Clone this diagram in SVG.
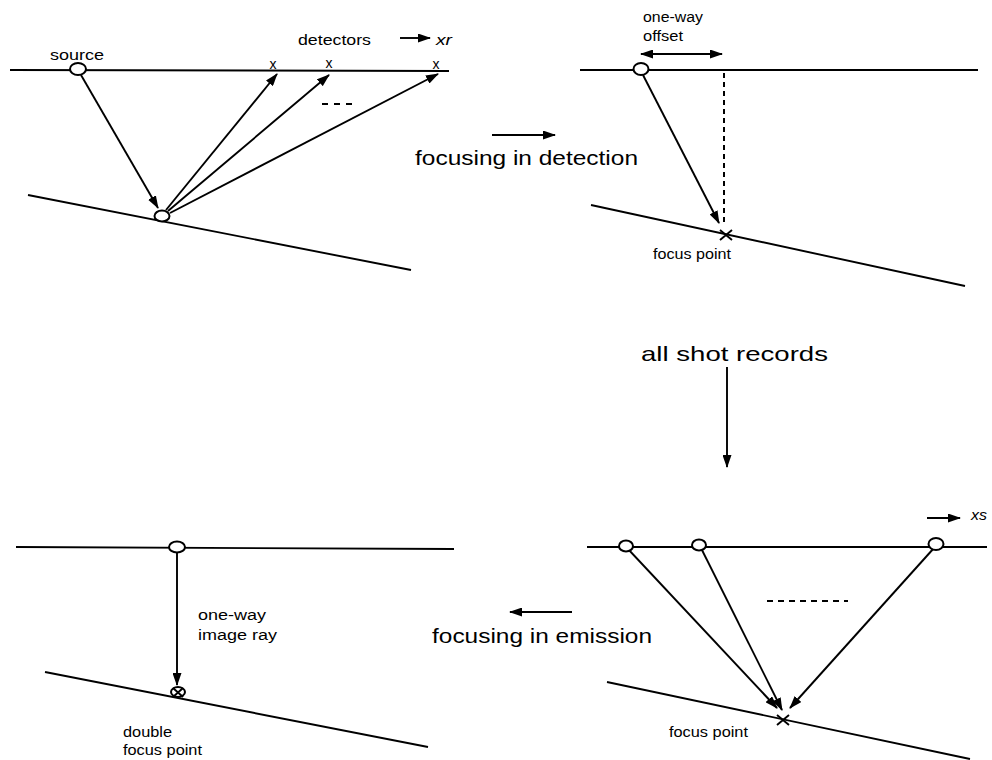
<svg xmlns="http://www.w3.org/2000/svg" width="992" height="760" viewBox="0 0 992 760">
<defs>
<style>
.ln{stroke:#000;stroke-width:1.9;fill:none}
.ar{stroke:#000;stroke-width:1.9;fill:none;marker-end:url(#ah)}
.ci{stroke:#000;stroke-width:2;fill:#fff}
.dash{stroke:#000;stroke-width:2;fill:none;stroke-dasharray:5 4}
.sm{font-family:"Liberation Sans",Arial,sans-serif;font-size:14px;fill:#000}
.big{font-family:"Liberation Sans",Arial,sans-serif;font-size:21px;fill:#000}
.it{font-family:"Liberation Sans",Arial,sans-serif;font-size:14px;font-style:italic;fill:#000}
</style>
<marker id="ah" markerUnits="userSpaceOnUse" markerWidth="13" markerHeight="9" refX="12" refY="4.5" orient="auto-start-reverse" viewBox="0 0 13 9">
<path d="M0,0 L13,4.5 L0,9 z" fill="#000"/>
</marker>
</defs>
<rect width="992" height="760" fill="#fff"/>

<g id="panel-tl">
<line class="ln" x1="10" y1="70" x2="449" y2="71"/>
<line class="ln" x1="28" y1="195" x2="411" y2="270"/>
<g id="connectors-tl">
<line class="ar" x1="81" y1="75" x2="158" y2="208"/>
<line class="ar" x1="166" y1="210" x2="277" y2="74"/>
<line class="ar" x1="168" y1="211" x2="329" y2="75"/>
<line class="ar" x1="170" y1="213" x2="438" y2="74"/>
<line class="ar" x1="400" y1="38" x2="430" y2="38"/>
</g>
<g id="source-tl"><ellipse class="ci" cx="78" cy="69" rx="8" ry="6"/></g>
<g id="reflect-tl"><ellipse class="ci" cx="162" cy="216" rx="7.5" ry="5.5"/></g>
<text class="sm" x="50" y="60" textLength="54" lengthAdjust="spacingAndGlyphs">source</text>
<text class="sm" x="298" y="45" textLength="73" lengthAdjust="spacingAndGlyphs">detectors</text>
<text class="it" x="436" y="45" textLength="16" lengthAdjust="spacingAndGlyphs">xr</text>
<text class="sm" x="273" y="69" text-anchor="middle">x</text>
<text class="sm" x="329" y="68" text-anchor="middle">x</text>
<text class="sm" x="436" y="69" text-anchor="middle">x</text>
<line class="ln" x1="322" y1="104" x2="353" y2="104" style="stroke-dasharray:6 6"/>
</g>

<g id="label-detection">
<line class="ar" x1="492" y1="135" x2="555" y2="135"/>
<text class="big" x="415" y="165" textLength="223" lengthAdjust="spacingAndGlyphs">focusing in detection</text>
</g>

<g id="panel-tr">
<line class="ln" x1="580" y1="70" x2="978" y2="70"/>
<line class="ln" x1="591" y1="205" x2="965" y2="286"/>
<line class="dash" x1="724" y1="73" x2="724" y2="223"/>
<line class="ar" x1="643" y1="75" x2="719" y2="223"/>
<line class="ln" x1="641" y1="54" x2="722" y2="54" style="marker-start:url(#ah);marker-end:url(#ah)"/>
<ellipse class="ci" cx="641" cy="69" rx="7.5" ry="6"/>
<path class="ln" d="M720,230 L732,240 M732,230 L720,240"/>
<text class="sm" x="643" y="22" textLength="60" lengthAdjust="spacingAndGlyphs">one-way</text>
<text class="sm" x="643" y="41" textLength="40" lengthAdjust="spacingAndGlyphs">offset</text>
<text class="sm" x="653" y="259" textLength="78" lengthAdjust="spacingAndGlyphs">focus point</text>
</g>

<g id="label-allshots">
<text class="big" x="641" y="361" textLength="187" lengthAdjust="spacingAndGlyphs">all shot records</text>
<line class="ar" x1="727" y1="367" x2="727" y2="467"/>
</g>

<g id="panel-bl">
<line class="ln" x1="16" y1="547" x2="454" y2="549"/>
<line class="ln" x1="45" y1="672" x2="428" y2="747"/>
<line class="ar" x1="177" y1="553" x2="177" y2="685"/>
<ellipse class="ci" cx="177" cy="547" rx="8" ry="5.5"/>
<ellipse class="ci" cx="178" cy="692" rx="7" ry="5"/>
<path class="ln" d="M173,688 L183,697 M183,688 L173,697"/>
<text class="sm" x="198" y="620" textLength="68" lengthAdjust="spacingAndGlyphs">one-way</text>
<text class="sm" x="198" y="640" textLength="79" lengthAdjust="spacingAndGlyphs">image ray</text>
<text class="sm" x="123" y="737" textLength="49" lengthAdjust="spacingAndGlyphs">double</text>
<text class="sm" x="123" y="755" textLength="79" lengthAdjust="spacingAndGlyphs">focus point</text>
</g>

<g id="label-emission">
<line class="ar" x1="572" y1="612" x2="510" y2="612"/>
<text class="big" x="432" y="643" textLength="220" lengthAdjust="spacingAndGlyphs">focusing in emission</text>
</g>

<g id="panel-br">
<line class="ln" x1="587" y1="547" x2="987" y2="547"/>
<line class="ln" x1="607" y1="682" x2="970" y2="759"/>
<line class="ar" x1="628" y1="549" x2="777" y2="708"/>
<line class="ar" x1="701" y1="548" x2="782" y2="710"/>
<line class="ar" x1="934" y1="548" x2="790" y2="708"/>
<ellipse class="ci" cx="626" cy="546" rx="7" ry="5.5"/>
<ellipse class="ci" cx="699" cy="545" rx="7" ry="5.5"/>
<ellipse class="ci" cx="936" cy="544" rx="7.5" ry="6"/>
<path class="ln" d="M777,715 L789,725 M789,715 L777,725"/>
<line class="ln" x1="767" y1="601" x2="848" y2="601" style="stroke-dasharray:6 5"/>
<line class="ar" x1="927" y1="518" x2="960" y2="518"/>
<text class="it" x="971" y="520" textLength="16" lengthAdjust="spacingAndGlyphs">xs</text>
<text class="sm" x="669" y="737" textLength="79" lengthAdjust="spacingAndGlyphs">focus point</text>
</g>
</svg>
